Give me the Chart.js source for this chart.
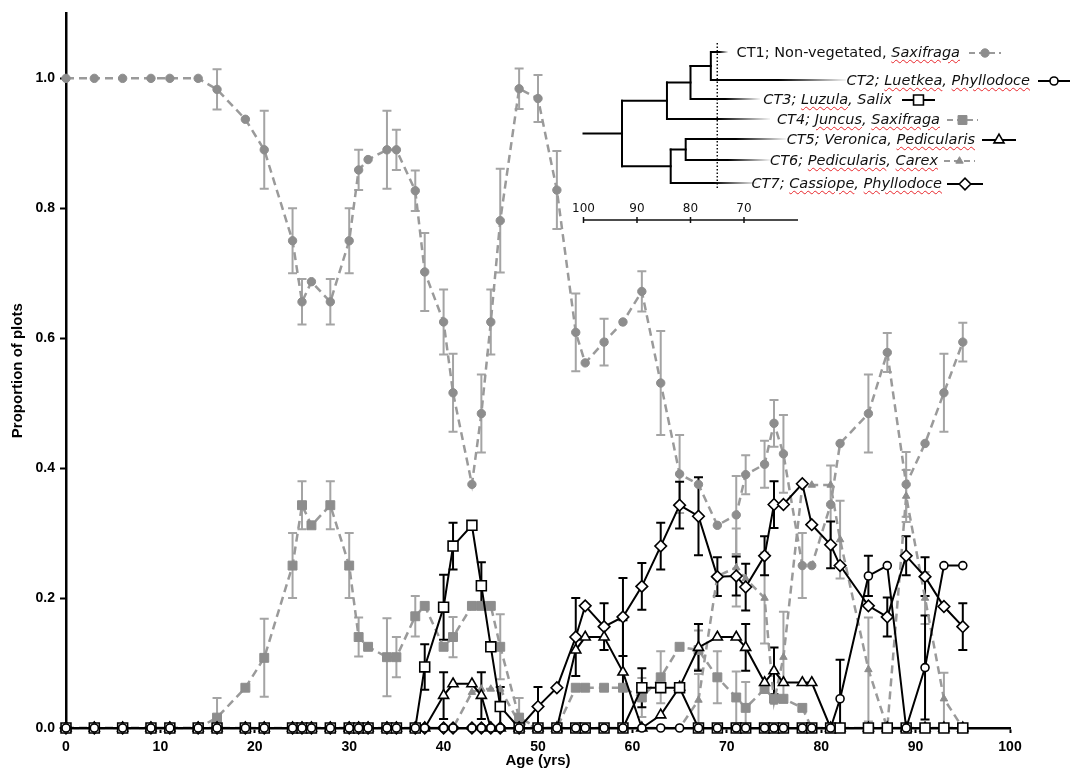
<!DOCTYPE html>
<html>
<head>
<meta charset="utf-8">
<title>Community types by surface age</title>
<script src="https://cdn.jsdelivr.net/npm/chart.js@4.4.1/dist/chart.umd.min.js"></script>
<style>
  html, body { margin: 0; padding: 0; background: #fff; }
  #wrap { position: relative; width: 1070px; height: 771px; overflow: hidden; }
  #chart { position: absolute; left: 0; top: 0; }
  #inset { position: absolute; left: 0; top: 0; }
  .ct { position: absolute; font-family: "DejaVu Sans", sans-serif; font-size: 14.5px; font-style: italic;
        color: #111; white-space: nowrap; line-height: 18px; margin-top: -10px; }
  .ct .up { font-style: normal; }
  .ct u { text-decoration: underline wavy #e8262b; text-decoration-thickness: 1.3px; text-underline-offset: 2px; }
  .sc { position: absolute; font-family: "DejaVu Sans", sans-serif; font-size: 12px; color: #111;
        transform: translateX(-50%); line-height: 13px; }
</style>
</head>
<body>
<div id="wrap">
  <canvas id="chart" width="1070" height="771"></canvas>
  <svg id="inset" width="1070" height="771"></svg>
  <div id="labels"></div>
</div>
<script>
// sampled surface ages (yrs)
const ages = [0, 3, 6, 9, 11, 14, 16, 19, 21, 24, 25, 26, 28, 30, 31, 32, 34, 35, 37, 38, 40, 41, 43, 44, 45, 46,
  48, 50, 52, 54, 55, 57, 59, 61, 63, 65, 67, 69, 71, 72, 74, 75, 76, 78, 79, 81, 82, 85, 87, 89, 91, 93, 95];

// proportion of plots in each community type, with +/- error
const ct1 = [1, 1, 1, 1, 1, 1,
  0.983, 0.937, 0.89, 0.75, 0.656, 0.687,
  0.656, 0.75, 0.859, 0.875, 0.89, 0.89,
  0.827, 0.702, 0.625, 0.516, 0.375, 0.484,
  0.625, 0.781, 0.984, 0.969, 0.828, 0.609,
  0.562, 0.594, 0.625, 0.672, 0.531, 0.391,
  0.375, 0.312, 0.328, 0.39, 0.406, 0.469,
  0.422, 0.25, 0.25, 0.344, 0.438, 0.484,
  0.578, 0.375, 0.438, 0.516, 0.594];
const ct1Err = [0, 0, 0, 0, 0, 0,
  0.031, 0, 0.06, 0.05, 0.035, 0,
  0.035, 0.05, 0.031, 0, 0.06, 0.031,
  0.031, 0.06, 0.05, 0.06, 0, 0.06,
  0.05, 0.08, 0.031, 0.036, 0.06, 0.06,
  0, 0.036, 0, 0.031, 0.08, 0.06,
  0, 0, 0.06, 0.03, 0.036, 0.036,
  0.06, 0.05, 0, 0.06, 0, 0.06,
  0.03, 0.05, 0, 0.06, 0.03];

const ct2 = [0, 0, 0, 0, 0, 0,
  0, 0, 0, 0, 0, 0,
  0, 0, 0, 0, 0, 0,
  0, 0, 0, 0, 0, 0,
  0, 0, 0, 0, 0, 0,
  0, 0, 0, 0, 0, 0,
  0, 0, 0, 0, 0, 0,
  0, 0, 0, 0, 0.045, 0.234,
  0.25, 0, 0.093, 0.25, 0.25];
const ct2Err = [0, 0, 0, 0, 0, 0,
  0, 0, 0, 0, 0, 0,
  0, 0, 0, 0, 0, 0,
  0, 0, 0, 0, 0, 0,
  0, 0, 0, 0, 0, 0,
  0, 0, 0, 0, 0, 0,
  0, 0, 0, 0, 0, 0,
  0, 0, 0, 0, 0.06, 0.031,
  0, 0, 0.08, 0, 0];

const ct3 = [0, 0, 0, 0, 0, 0,
  0, 0, 0, 0, 0, 0,
  0, 0, 0, 0, 0, 0,
  0, 0.094, 0.186, 0.28, 0.312, 0.219,
  0.125, 0.033, 0, 0, 0, 0,
  0, 0, 0, 0.062, 0.062, 0.062,
  0, 0, 0, 0, 0, 0,
  0, 0, 0, 0, 0, 0,
  0, 0, 0, 0, 0];
const ct3Err = [0, 0, 0, 0, 0, 0,
  0, 0, 0, 0, 0, 0,
  0, 0, 0, 0, 0, 0,
  0, 0.035, 0.05, 0.036, 0, 0.036,
  0, 0.03, 0, 0, 0, 0,
  0, 0, 0, 0.03, 0, 0,
  0, 0, 0, 0, 0, 0,
  0, 0, 0, 0, 0, 0,
  0, 0, 0, 0, 0];

const ct4 = [0, 0, 0, 0, 0, 0,
  0.016, 0.062, 0.108, 0.25, 0.343, 0.312,
  0.343, 0.25, 0.14, 0.125, 0.109, 0.109,
  0.172, 0.188, 0.125, 0.14, 0.188, 0.188,
  0.188, 0.125, 0.016, 0, 0, 0.062,
  0.062, 0.062, 0.062, 0.047, 0.078, 0.125,
  0.12, 0.078, 0.047, 0.031, 0.06, 0.045,
  0.045, 0.031, 0, 0, 0, 0,
  0, 0, 0, 0, 0];
const ct4Err = [0, 0, 0, 0, 0, 0,
  0.03, 0, 0.06, 0.05, 0.037, 0,
  0.037, 0.05, 0.03, 0, 0.06, 0.031,
  0.031, 0, 0, 0.031, 0, 0,
  0, 0.05, 0.03, 0, 0, 0,
  0, 0, 0, 0.03, 0.04, 0,
  0.03, 0.04, 0.04, 0.04, 0, 0,
  0, 0, 0, 0, 0, 0,
  0, 0, 0, 0, 0];

const ct5 = [0, 0, 0, 0, 0, 0,
  0, 0, 0, 0, 0, 0,
  0, 0, 0, 0, 0, 0,
  0, 0, 0.05, 0.068, 0.068, 0.05,
  0, 0, 0, 0, 0, 0.12,
  0.14, 0.14, 0.086, 0, 0.02, 0.063,
  0.124, 0.14, 0.14, 0.124, 0.07, 0.088,
  0.07, 0.07, 0.07, 0, 0, 0,
  0, 0, 0, 0, 0];
const ct5Err = [0, 0, 0, 0, 0, 0,
  0, 0, 0, 0, 0, 0,
  0, 0, 0, 0, 0, 0,
  0, 0, 0.036, 0, 0, 0.036,
  0, 0, 0, 0, 0, 0,
  0, 0, 0.08, 0, 0, 0,
  0.036, 0, 0, 0.036, 0, 0.036,
  0, 0, 0, 0, 0, 0,
  0, 0, 0, 0, 0];

const ct6 = [0, 0, 0, 0, 0, 0,
  0, 0, 0, 0, 0, 0,
  0, 0, 0, 0, 0, 0,
  0, 0, 0, 0, 0.055, 0.06,
  0.06, 0.06, 0.008, 0, 0, 0,
  0, 0, 0, 0, 0, 0,
  0.043, 0.234, 0.247, 0.23, 0.2, 0.04,
  0.109, 0.374, 0.374, 0.374, 0.29, 0.09,
  0, 0.357, 0.2, 0.045, 0];
const ct6Err = [0, 0, 0, 0, 0, 0,
  0, 0, 0, 0, 0, 0,
  0, 0, 0, 0, 0, 0,
  0, 0, 0, 0, 0, 0,
  0, 0, 0, 0, 0, 0,
  0, 0, 0, 0, 0, 0,
  0.04, 0, 0.06, 0, 0.07, 0,
  0.07, 0, 0, 0, 0.06, 0.08,
  0, 0.04, 0.04, 0.04, 0];

const ct7 = [0, 0, 0, 0, 0, 0,
  0, 0, 0, 0, 0, 0,
  0, 0, 0, 0, 0, 0,
  0, 0, 0, 0, 0, 0,
  0, 0, 0, 0.033, 0.062, 0.14,
  0.188, 0.156, 0.171, 0.218, 0.28, 0.343,
  0.326, 0.233, 0.234, 0.217, 0.265, 0.344,
  0.344, 0.376, 0.313, 0.282, 0.25, 0.188,
  0.171, 0.265, 0.233, 0.187, 0.156];
const ct7Err = [0, 0, 0, 0, 0, 0,
  0, 0, 0, 0, 0, 0,
  0, 0, 0, 0, 0, 0,
  0, 0, 0, 0, 0, 0,
  0, 0, 0, 0.03, 0, 0.06,
  0, 0.036, 0.06, 0.036, 0.036, 0.036,
  0.06, 0.03, 0.03, 0.036, 0.03, 0.036,
  0, 0, 0, 0.036, 0, 0,
  0.03, 0.03, 0.03, 0, 0.036];

const yTicks = [0, 0.2, 0.4, 0.6, 0.8, 1.0];

// community type names (genus names in italics)
const typeNames = [
  '<span class="up">CT1; Non-vegetated, </span><u>Saxifraga</u>',
  'CT2; <u>Luetkea</u>, <u>Phyllodoce</u>',
  'CT3; <u>Luzula</u>, Salix',
  'CT4; <u>Juncus</u>, <u>Saxifraga</u>',
  'CT5; Veronica, <u>Pedicularis</u>',
  'CT6; <u>Pedicularis</u>, <u>Carex</u>',
  'CT7; <u>Cassiope</u>, <u>Phyllodoce</u>'
];
// cluster joins: [child a, child b, similarity %]; leaves are 0..6
const joins = [[0, 1, 76.2], [7, 2, 80], [8, 3, 84.4], [4, 5, 80.9], [10, 6, 83.7], [9, 11, 92.8]];
const cutLevel = 75;
const scaleTicks = [100, 90, 80, 70];

const GRAY = '#9a9a9a', GRAY_PT = '#8d8d8d', GRAY_BAR = '#a4a4a4', BLACK = '#000';
const looks = [
  { gray: true, point: 'circle', r: 4.2 },
  { gray: false, point: 'circle', r: 4 },
  { gray: false, point: 'rect', r: 7 },
  { gray: true, point: 'rect', r: 6.3 },
  { gray: false, point: 'triangle', r: 5.8 },
  { gray: true, point: 'triangle', r: 4.3 },
  { gray: false, point: 'rectRot', r: 5.8 }
];

function makeSet(i, values, errors) {
  const lk = looks[i];
  return {
    label: 'CT' + (i + 1),
    data: ages.map((a, j) => ({ x: a, y: values[j] })),
    errors: errors,
    barColor: lk.gray ? GRAY_BAR : BLACK,
    borderColor: lk.gray ? GRAY : BLACK,
    borderWidth: lk.gray ? 2.5 : 2,
    borderDash: lk.gray ? [8, 5] : [],
    pointStyle: lk.point,
    pointRadius: lk.r,
    pointHoverRadius: lk.r,
    pointBackgroundColor: lk.gray ? GRAY_PT : '#fff',
    pointBorderColor: lk.gray ? GRAY_PT : BLACK,
    pointBorderWidth: lk.gray ? 1 : 1.6,
    tension: 0,
    fill: false,
    clip: false,
    order: lk.gray ? 2 : 1
  };
}

// vertical error bars with caps, under the markers
const errorBars = {
  id: 'errorBars',
  beforeDatasetsDraw(chart) {
    const ctx = chart.ctx, xs = chart.scales.x, ys = chart.scales.y;
    chart.data.datasets.slice().sort((a, b) => b.order - a.order).forEach(ds => {
      ctx.save();
      ctx.strokeStyle = ds.barColor;
      ctx.lineWidth = 2;
      ds.data.forEach((p, i) => {
        const e = ds.errors[i];
        if (!e) return;
        const px = xs.getPixelForValue(p.x);
        const lo = Math.max(0, p.y - e);
        const y0 = ys.getPixelForValue(lo), y1 = ys.getPixelForValue(p.y + e);
        ctx.beginPath();
        ctx.moveTo(px, y0); ctx.lineTo(px, y1);
        ctx.moveTo(px - 4.5, y1); ctx.lineTo(px + 4.5, y1);
        if (lo > 0) { ctx.moveTo(px - 4.5, y0); ctx.lineTo(px + 4.5, y0); }
        ctx.stroke();
      });
      ctx.restore();
    });
  }
};

const tickFont = { family: '"Liberation Sans", Arial, sans-serif', size: 14, weight: 'bold' };
const titleFont = { family: '"Liberation Sans", Arial, sans-serif', size: 15, weight: 'bold' };

new Chart(document.getElementById('chart'), {
  type: 'line',
  data: {
    datasets: [
      makeSet(0, ct1, ct1Err), makeSet(1, ct2, ct2Err), makeSet(2, ct3, ct3Err), makeSet(3, ct4, ct4Err),
      makeSet(4, ct5, ct5Err), makeSet(5, ct6, ct6Err), makeSet(6, ct7, ct7Err)
    ]
  },
  options: {
    responsive: false,
    animation: false,
    layout: { padding: { top: 10, right: 60, left: 0, bottom: 0 } },
    plugins: { legend: { display: false }, tooltip: { enabled: false } },
    scales: {
      x: {
        type: 'linear', min: 0, max: 100,
        ticks: { stepSize: 10, color: BLACK, font: tickFont, padding: 6, maxRotation: 0 },
        grid: { drawOnChartArea: false, tickLength: 5, tickColor: BLACK, tickWidth: 2 },
        border: { color: BLACK, width: 2.5 },
        title: { display: true, text: 'Age (yrs)', color: BLACK, font: titleFont, padding: { top: 0, bottom: 1 } },
        afterFit(s) { s.height = 43; }
      },
      y: {
        min: 0, max: 1.1,
        afterBuildTicks(s) { s.ticks = yTicks.map(v => ({ value: v })); },
        ticks: { color: BLACK, font: tickFont, padding: 5, callback: v => v.toFixed(1) },
        grid: { drawOnChartArea: false, tickLength: 6, tickColor: BLACK, tickWidth: 2 },
        border: { color: BLACK, width: 2.5 },
        title: { display: true, text: 'Proportion of plots', color: BLACK, font: titleFont, padding: { top: 9, bottom: 0 } },
        afterFit(s) { s.width = 66; }
      }
    }
  },
  plugins: [errorBars]
});

// ---- dendrogram inset with legend ----
const rows = [
  // right edge of name, row y, end of the faded branch, legend line start / end
  { right: 960, y: 53, leafEnd: 728, s0: 969, s1: 1001 },
  { right: 1030, y: 81, leafEnd: 846, s0: 1038, s1: 1070 },
  { right: 892, y: 100, leafEnd: 760, s0: 902, s1: 935 },
  { right: 940, y: 120, leafEnd: 770, s0: 947, s1: 978 },
  { right: 975, y: 140, leafEnd: 786, s0: 982, s1: 1016 },
  { right: 938, y: 161, leafEnd: 770, s0: 944, s1: 975 },
  { right: 942, y: 184, leafEnd: 757, s0: 947, s1: 983 }
];
const NS = 'http://www.w3.org/2000/svg';
const svg = document.getElementById('inset');
const defs = document.createElementNS(NS, 'defs');
svg.appendChild(defs);
function el(tag, attrs, parent) {
  const e = document.createElementNS(NS, tag);
  for (const k in attrs) e.setAttribute(k, attrs[k]);
  (parent || svg).appendChild(e);
  return e;
}
const barLeft = 583.5, pxPerUnit = 5.35;
const sx = s => barLeft + (100 - s) * pxPerUnit;
const treeStroke = { stroke: '#000', 'stroke-width': 2, 'stroke-linecap': 'square' };

const nodes = rows.map(r => ({ x: null, y: r.y - 1 }));
joins.forEach(([a, b, s], k) => {
  const x = sx(s);
  el('line', Object.assign({ x1: x, y1: nodes[a].y, x2: x, y2: nodes[b].y }, treeStroke));
  [a, b].forEach(c => {
    const cy = nodes[c].y;
    if (c < rows.length) {
      const end = rows[c].leafEnd;
      const id = 'fade' + c;
      const g = el('linearGradient', { id, gradientUnits: 'userSpaceOnUse', x1: end - 0.5 * (end - x), y1: 0, x2: end, y2: 0 }, defs);
      el('stop', { offset: 0, 'stop-color': '#000', 'stop-opacity': 1 }, g);
      el('stop', { offset: 1, 'stop-color': '#000', 'stop-opacity': 0.04 }, g);
      el('line', { x1: x, y1: cy, x2: end, y2: cy, stroke: 'url(#' + id + ')', 'stroke-width': 2 });
    } else {
      el('line', Object.assign({ x1: x, y1: cy, x2: nodes[c].x, y2: cy }, treeStroke));
    }
  });
  nodes.push({ x, y: (nodes[a].y + nodes[b].y) / 2 });
});
const root = nodes[nodes.length - 1];
el('line', Object.assign({ x1: sx(100), y1: root.y, x2: root.x, y2: root.y }, treeStroke));
el('line', { x1: sx(cutLevel), y1: 43, x2: sx(cutLevel), y2: 188, stroke: '#000', 'stroke-width': 1.4, 'stroke-dasharray': '1.5,2' });

// similarity scale bar
el('line', { x1: sx(100), y1: 220, x2: 798, y2: 220, stroke: '#111', 'stroke-width': 1.5 });
const labels = document.getElementById('labels');
scaleTicks.forEach(t => {
  el('line', { x1: sx(t), y1: 217, x2: sx(t), y2: 223, stroke: '#111', 'stroke-width': 1.5 });
  const d = document.createElement('div');
  d.className = 'sc';
  d.style.left = sx(t) + 'px';
  d.style.top = '202px';
  d.textContent = t;
  labels.appendChild(d);
});

// legend markers drawn to the same geometry as the chart points
function marker(lk, cx, cy) {
  const fill = lk.gray ? GRAY_PT : '#fff', stroke = lk.gray ? GRAY_PT : BLACK;
  const sw = lk.gray ? 1 : 1.6, r = lk.r;
  const base = { fill, stroke, 'stroke-width': sw };
  if (lk.point === 'circle') return el('circle', Object.assign({ cx, cy, r }, base));
  let pts;
  if (lk.point === 'rect') {
    const h = r * Math.SQRT1_2;
    pts = [[cx - h, cy - h], [cx + h, cy - h], [cx + h, cy + h], [cx - h, cy + h]];
  } else if (lk.point === 'rectRot') {
    pts = [[cx - r, cy], [cx, cy - r], [cx + r, cy], [cx, cy + r]];
  } else {
    pts = [[cx, cy - r], [cx + 0.866 * r, cy + 0.5 * r], [cx - 0.866 * r, cy + 0.5 * r]];
  }
  return el('polygon', Object.assign({ points: pts.map(p => p.join(',')).join(' ') }, base));
}

rows.forEach((r, i) => {
  const lk = looks[i];
  el('line', {
    x1: r.s0, y1: r.y, x2: r.s1, y2: r.y,
    stroke: lk.gray ? GRAY : BLACK, 'stroke-width': 2,
    'stroke-dasharray': lk.gray ? '6,4' : 'none'
  });
  marker(lk, (r.s0 + r.s1) / 2, r.y);
  const d = document.createElement('div');
  d.className = 'ct';
  d.style.right = (1070 - r.right) + 'px';
  d.style.top = r.y + 'px';
  d.innerHTML = typeNames[i];
  labels.appendChild(d);
});
</script>
</body>
</html>
